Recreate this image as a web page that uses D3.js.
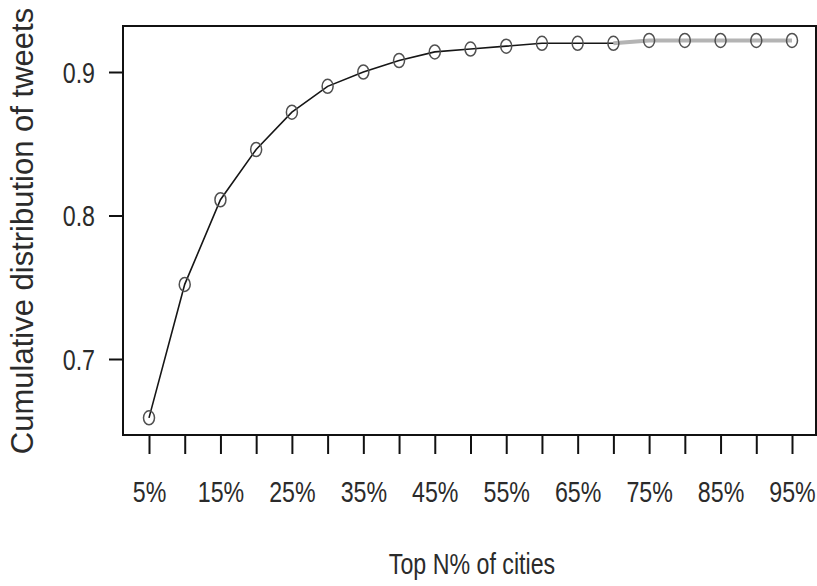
<!DOCTYPE html>
<html>
<head>
<meta charset="utf-8">
<script src="https://cdn.jsdelivr.net/npm/d3@7"></script>
<style>
  html, body { margin: 0; padding: 0; background: #fff; }
  svg { display: block; }
  text { font-family: "Liberation Sans", Arial, Helvetica, sans-serif; fill: #2b2b2b; }
</style>
</head>
<body>
<svg id="chart" width="817" height="586"></svg>
<script>
// Share of cities (top N%) and cumulative share of tweets they account for
const topPercent = [5, 10, 15, 20, 25, 30, 35, 40, 45, 50, 55, 60, 65, 70, 75, 80, 85, 90, 95];
const cumulativeShare = [0.659, 0.752, 0.811, 0.846, 0.872, 0.890, 0.900, 0.908, 0.914, 0.916,
                         0.918, 0.920, 0.920, 0.920, 0.922, 0.922, 0.922, 0.922, 0.922];
const xTickLabels = ["5%", "15%", "25%", "35%", "45%", "55%", "65%", "75%", "85%", "95%"];
const yTicks = [0.7, 0.8, 0.9];
// From this point on the curve is drawn as a grey band
const plateauFrom = 70;

const svg = d3.select("#chart");
const box = { left: 123, right: 816, top: 26, bottom: 435 };
const squeeze = 0.8; // narrow glyphs for tick and axis labels

const x = d3.scaleLinear().domain([5, 95]).range([149, 792]);
const y = d3.scaleLinear().domain([0.7, 0.9]).range([359, 72]);

const pts = topPercent.map((p, i) => ({ p, v: cumulativeShare[i] }));

// Plot frame
svg.append("rect")
  .attr("x", box.left).attr("y", box.top)
  .attr("width", box.right - box.left).attr("height", box.bottom - box.top)
  .attr("fill", "none").attr("stroke", "#111").attr("stroke-width", 2);

// Bottom axis: a tick every 5%, labels every 10%
const xAxis = svg.append("g")
  .attr("transform", `translate(0,${box.bottom})`)
  .call(d3.axisBottom(x)
    .tickValues(topPercent)
    .tickSize(19)
    .tickFormat(d => { const s = d + "%"; return xTickLabels.includes(s) ? s : ""; }));
xAxis.select(".domain").remove();
xAxis.selectAll(".tick line").attr("stroke", "#111").attr("stroke-width", 2);
xAxis.selectAll(".tick text")
  .attr("y", 67).attr("dy", null)
  .attr("transform", `scale(${squeeze},1)`)
  .style("font-size", "29px").attr("fill", "#2b2b2b");

// Left axis
const yAxis = svg.append("g")
  .attr("transform", `translate(${box.left},0)`)
  .call(d3.axisLeft(y).tickValues(yTicks).tickSize(14).tickFormat(d3.format(".1f")));
yAxis.select(".domain").remove();
yAxis.selectAll(".tick line").attr("stroke", "#111").attr("stroke-width", 2);
yAxis.selectAll(".tick text")
  .attr("x", -28 / squeeze).attr("dy", "0.36em")
  .attr("transform", `scale(${squeeze},1)`)
  .style("font-size", "29px").attr("fill", "#2b2b2b");

// Axis titles
svg.append("text")
  .attr("transform", `translate(472,574) scale(${squeeze},1)`)
  .attr("text-anchor", "middle")
  .style("font-size", "29px")
  .text("Top N% of cities");

svg.append("text")
  .attr("transform", "translate(33,231) rotate(-90)")
  .attr("text-anchor", "middle")
  .style("font-size", "31px")
  .text("Cumulative distribution of tweets");

// Curve
const line = d3.line().x(d => x(d.p)).y(d => y(d.v));
svg.append("path")
  .datum(pts.filter(d => d.p >= plateauFrom))
  .attr("d", line)
  .attr("fill", "none").attr("stroke", "#b4b4b4").attr("stroke-width", 4);
svg.append("path")
  .datum(pts.filter(d => d.p <= plateauFrom))
  .attr("d", line)
  .attr("fill", "none").attr("stroke", "#161616").attr("stroke-width", 1.6);

// Open circle markers
svg.append("g").selectAll("ellipse")
  .data(pts)
  .join("ellipse")
  .attr("cx", d => x(d.p)).attr("cy", d => y(d.v))
  .attr("rx", 5.5).attr("ry", 7)
  .attr("fill", "none").attr("stroke", "#505050").attr("stroke-width", 1.5);
</script>
</body>
</html>
